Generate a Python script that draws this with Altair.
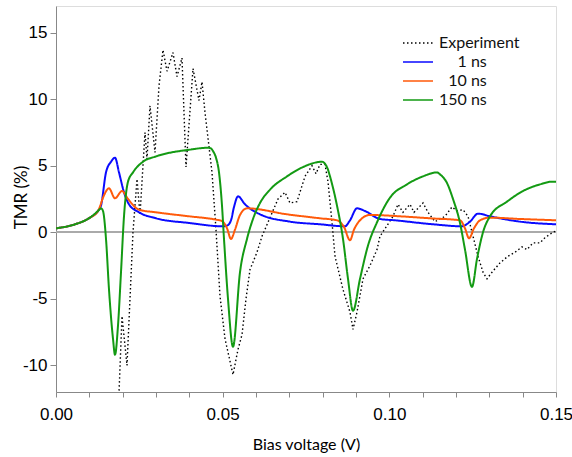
import altair as alt
import pandas as pd

series_names = ["Experiment", "1 ns", "10 ns", "150 ns"]
series_colors = ["#000000", "#0a0aff", "#ff5a0a", "#139a13"]

exp_v = [0.0186, 0.0198, 0.0213, 0.0222, 0.0231, 0.0243, 0.0252, 0.0267, 0.0273, 0.0282,
         0.0297, 0.0309, 0.0321, 0.0333, 0.0351, 0.0363, 0.0378, 0.0390, 0.0411, 0.0429,
         0.0438, 0.0447, 0.0468, 0.0480, 0.0492, 0.0507, 0.0531, 0.0546, 0.0558, 0.0570,
         0.0582, 0.0603, 0.0618, 0.0636, 0.0666, 0.0687, 0.0702, 0.0723, 0.0747, 0.0768,
         0.0780, 0.0792, 0.0807, 0.0816, 0.0828, 0.0837, 0.0861, 0.0882, 0.0891, 0.0903,
         0.0921, 0.0942, 0.0963, 0.0972, 0.0993, 0.1011, 0.1026, 0.1041, 0.1062, 0.1074,
         0.1086, 0.1101, 0.1116, 0.1137, 0.1152, 0.1167, 0.1188, 0.1203, 0.1221, 0.1236,
         0.1251, 0.1266, 0.1281, 0.1293, 0.1308, 0.1332, 0.1356, 0.1377, 0.1398, 0.1413,
         0.1431, 0.1452, 0.1467, 0.1491, 0.1500]
exp_t = [-14.0, -6.3, -10.0, -5.0, 0.0, 4.0, 1.3, 7.5, 5.5, 9.5,
         6.0, 11.0, 13.7, 12.1, 13.5, 11.7, 13.1, 4.9, 12.3, 9.9,
         11.3, 9.0, 4.5, 0.2, -4.8, -8.0, -10.7, -8.8, -7.7, -5.0,
         -2.8, -1.5, -0.3, 0.75, 2.5, 3.0, 2.2, 2.3, 4.2, 5.0,
         4.4, 5.1, 5.1, 3.8, 0.75, -1.8, -4.3, -6.0, -7.3, -6.0,
         -3.5, -2.5, -1.3, -0.3, 0.5, 1.2, 2.1, 1.5, 2.1, 1.5,
         1.8, 2.2, 1.5, 0.8, 1.0, 1.2, 1.9, 1.6, 1.7, 1.2,
         -0.3, -1.8, -3.0, -3.5, -3.0, -2.3, -1.8, -1.5, -1.1, -1.3,
         -0.8, -0.8, -0.4, 0.0, 0.1]

b1_v = [0.0, 0.0057, 0.0102, 0.0126, 0.0135, 0.0150, 0.0165, 0.0177, 0.0189, 0.0204,
        0.0219, 0.0249, 0.0300, 0.0399, 0.0501, 0.0513, 0.0525, 0.0534, 0.0546, 0.0567,
        0.0612, 0.0702, 0.0792, 0.0867, 0.0882, 0.0903, 0.0927, 0.0972, 0.1017, 0.1131,
        0.1218, 0.1242, 0.1266, 0.1302, 0.1392, 0.1500]
b1_t = [0.3, 0.6, 1.1, 1.6, 2.0, 4.5, 5.3, 5.6, 4.5, 3.0,
        2.1, 1.5, 1.05, 0.7, 0.45, 0.5, 0.9, 1.9, 2.7, 2.1,
        1.35, 0.8, 0.6, 0.45, 0.9, 1.8, 1.6, 1.0, 0.9, 0.6,
        0.45, 0.8, 1.4, 1.2, 0.8, 0.6]

b10_v = [0.0, 0.0057, 0.0102, 0.0126, 0.0129, 0.0141, 0.0159, 0.0177, 0.0198, 0.0216,
         0.0249, 0.0300, 0.0399, 0.0480, 0.0498, 0.0513, 0.0525, 0.0537, 0.0552, 0.0573,
         0.0693, 0.0792, 0.0843, 0.0864, 0.0882, 0.0894, 0.0912, 0.0942, 0.1032, 0.1122,
         0.1212, 0.1227, 0.1239, 0.1254, 0.1272, 0.1302, 0.1392, 0.1500]
b10_t = [0.3, 0.6, 1.1, 1.6, 1.75, 2.6, 3.3, 2.55, 3.1, 2.5,
         1.7, 1.5, 1.2, 0.95, 0.85, 0.3, -0.5, 0.2, 1.3, 1.8,
         1.35, 1.05, 0.9, 0.4, -0.6, 0.2, 0.9, 1.3, 1.2, 1.05,
         0.9, 0.3, -0.45, 0.3, 0.9, 1.1, 1.0, 0.9]

b150_v = [0.0, 0.0057, 0.0102, 0.0126, 0.0135, 0.0141, 0.0150, 0.0159, 0.0171, 0.0177,
          0.0186, 0.0195, 0.0204, 0.0216, 0.0231, 0.0261, 0.0300, 0.0399, 0.0456, 0.0465,
          0.0471, 0.0480, 0.0489, 0.0498, 0.0504, 0.0516, 0.0531, 0.0552, 0.0573, 0.0591,
          0.0612, 0.0642, 0.0693, 0.0741, 0.0798, 0.0807, 0.0816, 0.0822, 0.0843, 0.0861,
          0.0876, 0.0891, 0.0912, 0.0936, 0.0963, 0.1002, 0.1053, 0.1101, 0.1143, 0.1152,
          0.1173, 0.1191, 0.1212, 0.1227, 0.1248, 0.1263, 0.1281, 0.1302, 0.1353, 0.1401,
          0.1452, 0.1488, 0.1500]
b150_t = [0.3, 0.6, 1.1, 1.6, 1.8, 1.6, -0.5, -4.3, -8.0, -9.2,
          -7.0, -3.0, 1.2, 3.8, 4.5, 5.3, 5.7, 6.2, 6.35, 6.3,
          6.1, 5.6, 4.5, 2.0, -0.5, -5.0, -8.6, -3.0, -0.5, 1.0,
          2.2, 3.2, 4.2, 4.9, 5.3, 5.15, 4.7, 4.2, 2.0, -0.5,
          -3.5, -5.9, -3.5, -1.0, 0.75, 2.6, 3.6, 4.2, 4.5, 4.35,
          3.7, 2.5, 0.7, -1.3, -4.1, -2.0, 0.0, 1.2, 2.3, 3.1,
          3.6, 3.8, 3.8]

x_ticks = [round(i * 0.01, 2) for i in range(16)]
y_ticks = [-10, -5, 0, 5, 10, 15]

rows = []
for name, vs, ts in zip(series_names,
                        [exp_v, b1_v, b10_v, b150_v],
                        [exp_t, b1_t, b10_t, b150_t]):
    for i, (v, t) in enumerate(zip(vs, ts)):
        rows.append({"series": name, "order": i, "V": v, "TMR": t})
df = pd.DataFrame(rows)
df_exp = df[df["series"] == "Experiment"]
df_mod = df[df["series"] != "Experiment"]

label_font = "Liberation Sans"
title_font = "Lato"

x_enc = alt.X("V:Q",
              scale=alt.Scale(domain=[0, 0.15], nice=False, zero=False),
              axis=alt.Axis(title="Bias voltage (V)", values=x_ticks,
                            labelExpr="round(datum.value*100) % 5 == 0 ? format(datum.value, '.2f') : ''",
                            grid=False, tickSize=5, labelPadding=9, titlePadding=14,
                            labelFont=label_font, labelFontSize=17,
                            titleFont=title_font, titleFontSize=16, titleFontWeight="normal",
                            labelFlush=False, labelOverlap=False))
y_enc = alt.Y("TMR:Q",
              scale=alt.Scale(domain=[-12, 17], nice=False, zero=False),
              axis=alt.Axis(title="TMR (%)", values=y_ticks, grid=False,
                            labelExpr="'' + datum.value",
                            tickSize=6, labelPadding=3,
                            titleX=-35, titleY=191, titleAngle=270,
                            titleAlign="center", titleBaseline="middle",
                            labelFont=label_font, labelFontSize=17,
                            titleFont=title_font, titleFontSize=17, titleFontWeight="normal"))

legend_label_expr = ("datum.label == '1 ns' ? '\u200b\u2007\u20071 ns' : "
                     "(datum.label == '10 ns' ? '\u200b\u200710 ns' : datum.label)")


def make_legend():
    return alt.Legend(
        title=None, orient="none", legendX=351, legendY=26,
        symbolType="M-1.5,0H1.5", symbolSize=400, symbolStrokeWidth=1.6,
        labelFont=title_font, labelFontSize=16, labelOffset=10,
        padding=0, rowPadding=0, labelColor="#111111",
        labelExpr=legend_label_expr)


color_enc = alt.Color("series:N",
                      scale=alt.Scale(domain=series_names, range=series_colors),
                      sort=series_names, legend=make_legend())
dash_enc = alt.StrokeDash("series:N",
                          scale=alt.Scale(domain=series_names,
                                          range=[[1.5, 2.5], [1, 0], [1, 0], [1, 0]]),
                          sort=series_names, legend=make_legend())

zero_line = alt.Chart(df).mark_rule(color="#aaaaaa", strokeWidth=1.5).encode(
    y=alt.datum(0))

exp_line = alt.Chart(df_exp).mark_line(clip=True, interpolate="linear", strokeWidth=1.4).encode(
    x=x_enc, y=y_enc, order=alt.Order("order:Q"),
    color=color_enc, strokeDash=dash_enc)

mod_lines = alt.Chart(df_mod).mark_line(clip=True, interpolate="monotone", strokeWidth=2).encode(
    x=x_enc, y=y_enc, order=alt.Order("order:Q"),
    color=color_enc, strokeDash=dash_enc)

chart = alt.layer(zero_line, exp_line, mod_lines).properties(
    width=500, height=386,
    autosize=alt.AutoSizeParams(type="none"),
    padding={"left": 56, "top": 6, "right": 16, "bottom": 65},
).configure_view(
    stroke="#333333", strokeWidth=1
).configure_axis(
    domainColor="#000000", tickColor="#000000", labelColor="#000000", titleColor="#000000"
).configure(background="white")

chart.save("out.html", embed_options={"renderer": "svg", "actions": False})
